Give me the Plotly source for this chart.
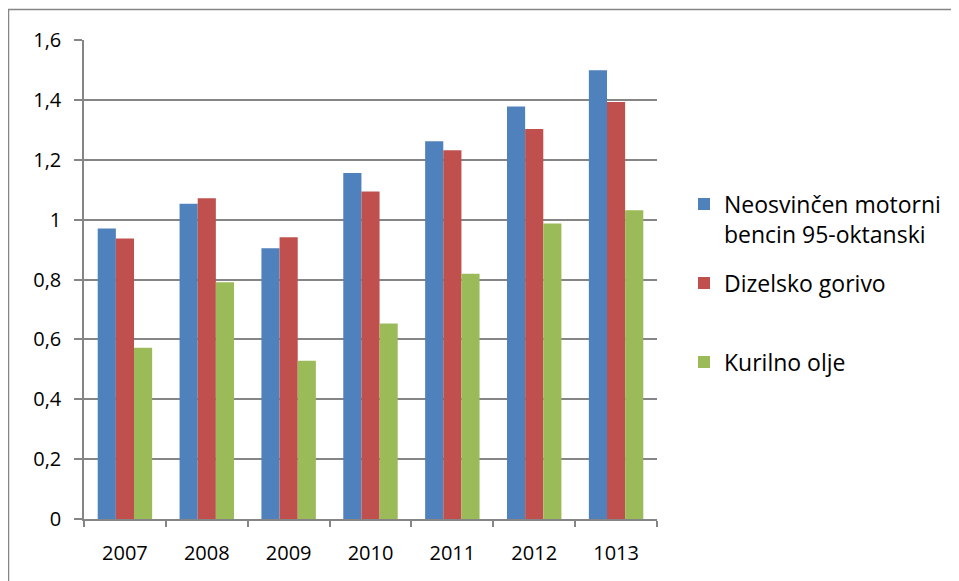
"""Cene goriv po letih - stolpčni graf v Plotly."""

import plotly.graph_objects as go

LETA = ["2007", "2008", "2009", "2010", "2011", "2012", "1013"]
BENCIN_95 = [0.970, 1.053, 0.904, 1.156, 1.262, 1.378, 1.499]
DIZEL = [0.937, 1.071, 0.941, 1.094, 1.232, 1.303, 1.393]
KURILNO_OLJE = [0.572, 0.791, 0.529, 0.653, 0.819, 0.987, 1.031]

IMENA = ["Neosvinčen motorni<br>bencin 95-oktanski", "Dizelsko gorivo", "Kurilno olje"]
BARVE = ["#4F81BD", "#C0504D", "#9BBB59"]

PISAVA = "Open Sans"
SIVA = "#858585"

# stran ima 8 px roba, zato je risba zamaknjena za ta odmik
ODMIK = 8
W, H = 959, 581
# položaj risalne površine na zaslonu (v pikslih)
X0, X1, Y0, Y1 = 84, 657, 40, 519
L, T = X0 - ODMIK, Y0 - ODMIK
R = W - (X1 - ODMIK)
B = H - (Y1 - ODMIK)


def px_x(p):
    return (p - X0) / (X1 - X0)


def px_y(p):
    return (Y1 - p) / (Y1 - Y0)


fig = go.Figure()
serije = [BENCIN_95, DIZEL, KURILNO_OLJE]
for i, (ime, vrednosti, barva) in enumerate(zip(IMENA, serije, BARVE)):
    fig.add_trace(
        go.Bar(
            x=LETA,
            y=vrednosti,
            name=ime,
            marker=dict(color=barva, line=dict(width=0)),
            legend="legend" if i == 0 else f"legend{i + 1}",
        )
    )

# vsaka legenda posebej, da so razmiki kot v izvirniku
sredine_legend = [219, 283, 362]
legende = {}
for i, sredina in enumerate(sredine_legend):
    kljuc = "legend" if i == 0 else f"legend{i + 1}"
    legende[kljuc] = dict(
        x=px_x(684),
        xanchor="left",
        y=px_y(sredina),
        yanchor="middle",
        valign="top",
        font=dict(family=PISAVA, size=23, color="#000000"),
        bgcolor="rgba(0,0,0,0)",
        itemclick=False,
    )

fig.update_layout(
    width=W,
    height=H,
    margin=dict(l=L, r=R, t=T, b=B),
    paper_bgcolor="white",
    plot_bgcolor="white",
    bargap=0.335,
    bargroupgap=0,
    separators=", ",
    font=dict(family=PISAVA, size=20, color="#000000"),
    showlegend=True,
    **legende,
)

fig.update_xaxes(
    showline=True,
    linecolor=SIVA,
    linewidth=1.5,
    ticks="outside",
    tickson="boundaries",
    ticklen=6,
    tickcolor=SIVA,
    tickwidth=1.5,
    ticklabelstandoff=15,
    showgrid=False,
    tickfont=dict(family=PISAVA, size=20),
)
fig.update_yaxes(
    range=[0, 1.6],
    dtick=0.2,
    showline=True,
    linecolor=SIVA,
    linewidth=1.5,
    ticks="outside",
    ticklen=8,
    tickcolor=SIVA,
    tickwidth=1.5,
    ticklabelstandoff=9,
    showgrid=True,
    gridcolor=SIVA,
    gridwidth=1.5,
    zeroline=False,
    tickfont=dict(family=PISAVA, size=20),
)

# okvir: vidna sta le levi in zgornji rob
fig.add_shape(
    type="rect",
    xref="paper",
    yref="paper",
    x0=px_x(8.5),
    x1=px_x(1000),
    y0=px_y(620),
    y1=px_y(9.5),
    line=dict(color=SIVA, width=1.5),
    fillcolor="rgba(0,0,0,0)",
    layer="below",
)

fig.write_html("out.html")
